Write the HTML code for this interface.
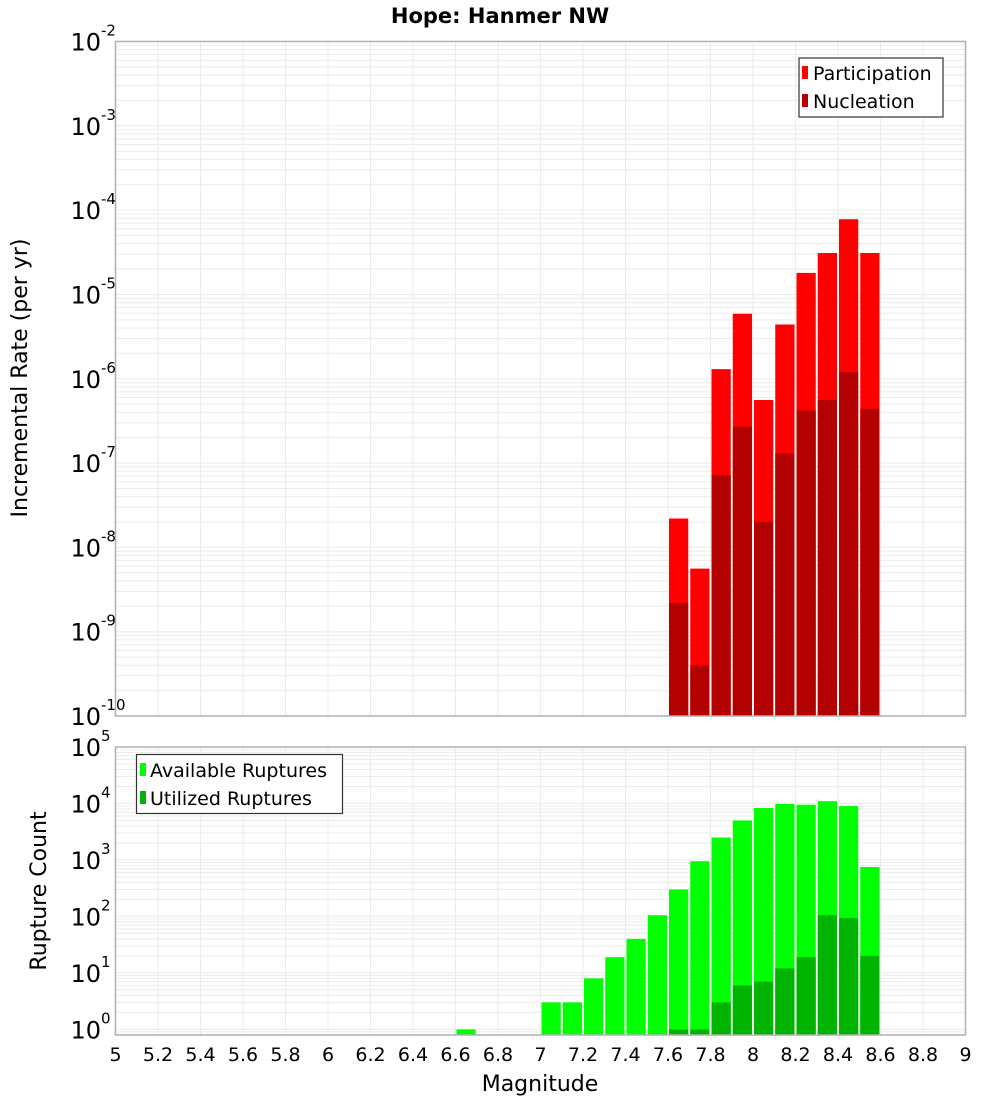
<!DOCTYPE html>
<html><head><meta charset="utf-8"><style>
body{margin:0;background:#fff;}
svg{display:block;font-family:"DejaVu Sans","Liberation Sans",sans-serif;}
</style></head><body>
<svg id="chart" width="1000" height="1100" viewBox="0 0 1000 1100"></svg>
<script>
const topBins = [7.6,7.7,7.8,7.9,8.0,8.1,8.2,8.3,8.4,8.5];
const participation = [2.2e-8,5.6e-9,1.3e-6,5.9e-6,5.6e-7,4.4e-6,1.8e-5,3.1e-5,7.8e-5,3.1e-5];
const nucleation = [2.2e-9,4e-10,7.2e-8,2.7e-7,2.0e-8,1.3e-7,4.2e-7,5.6e-7,1.2e-6,4.4e-7];
const botBins = [6.6,7.0,7.1,7.2,7.3,7.4,7.5,7.6,7.7,7.8,7.9,8.0,8.1,8.2,8.3,8.4,8.5];
const available = [1,3,3,8,19,40,105,300,950,2500,5000,8300,9800,9500,11000,9000,750];
const utilBins = [7.6,7.7,7.8,7.9,8.0,8.1,8.2,8.3,8.4,8.5];
const utilized = [1,1,3,6,7,12,19,105,93,20];
const xTicks = [5,5.2,5.4,5.6,5.8,6,6.2,6.4,6.6,6.8,7,7.2,7.4,7.6,7.8,8,8.2,8.4,8.6,8.8,9];
const topExps = [-2,-3,-4,-5,-6,-7,-8,-9,-10];
const botExps = [0,1,2,3,4,5];

const svg = document.getElementById('chart');
const NS = 'http://www.w3.org/2000/svg';
function mk(tag, attrs, parent){const e=document.createElementNS(NS,tag);for(const k in attrs)e.setAttribute(k,attrs[k]);(parent||svg).appendChild(e);return e;}
const L=115.5,R=965.5;
const x = m => L + (m-5)/4*(R-L);
const TT=41.5,TB=716;
const yTop = v => TT + (-2 - Math.log10(v))*(TB-TT)/8;
const BT=747,BB=1035;
const yBot = v => BT + (5 - Math.log10(v))*(BB-BT)/5.1;

function grid(yf, lo, hi, top, bot, name){
  const g=mk('g',{});
  
  
  for(let e=lo;e<hi;e++){for(let k=1;k<10;k++){const yy=yf(k*Math.pow(10,e));if(yy<top-0.5||yy>bot)continue;
    mk('line',{x1:L,x2:R,y1:yy,y2:yy,stroke:'#ebebeb','stroke-width':1},g);}}
  xTicks.forEach(t=>mk('line',{x1:x(t),x2:x(t),y1:top,y2:bot,stroke:'#ebebeb','stroke-width':1},g));
}
grid(yTop,-10,-2,TT,TB,'top-grid');
mk('line',{x1:L,x2:R,y1:TT,y2:TT,stroke:'#ebebeb'});
grid(yBot,-1,5,BT,BB,'bottom-grid');
mk('line',{x1:L,x2:R,y1:BT,y2:BT,stroke:'#ebebeb'});

function bar(m,v,yf,base,color,name){
  const x0=x(m)+1,x1=x(m+0.1)-1,y0=yf(v);
  const r=mk('rect',{x:x0,y:y0,width:x1-x0,height:base-y0,fill:color});
  
  
}
topBins.forEach((m,i)=>bar(m,participation[i],yTop,TB,'#ff0000','participation-bar'));
topBins.forEach((m,i)=>bar(m,nucleation[i],yTop,TB,'#b30000','nucleation-bar'));
botBins.forEach((m,i)=>bar(m,available[i],yBot,BB,'#00ff00','available-bar'));
utilBins.forEach((m,i)=>bar(m,utilized[i],yBot,BB,'#00b300','utilized-bar'));

mk('rect',{x:L,y:TT,width:R-L,height:TB-TT,fill:'none',stroke:'#b0b0b0','stroke-width':1.5});
mk('rect',{x:L,y:BT,width:R-L,height:BB-BT,fill:'none',stroke:'#b0b0b0','stroke-width':1.5});

function ylab(e,yy,name){
  const t=mk('text',{x:101,y:yy+9,'text-anchor':'end','font-size':24,fill:'#000'});
  t.textContent='10';
  
  
  const s=mk('text',{x:101,y:yy-6,'font-size':15,fill:'#000'});
  s.textContent=String(e);
  
  
}
topExps.forEach(e=>ylab(e,yTop(Math.pow(10,e)),'top-y-tick-label'));
botExps.forEach(e=>ylab(e,yBot(Math.pow(10,e)),'bottom-y-tick-label'));
xTicks.forEach(t=>{const tx=mk('text',{x:x(t),y:1061,'text-anchor':'middle','font-size':19,fill:'#000'});
  tx.textContent=String(t);
  
  });
</script>
<svg width="1000" height="1100" style="position:absolute;left:0;top:0">
<text x="500" y="23" text-anchor="middle" font-size="21" font-weight="bold" font-family="DejaVu Sans, Liberation Sans, sans-serif">Hope: Hanmer NW</text>
<text transform="translate(27,378) rotate(-90)" text-anchor="middle" font-size="22" font-family="DejaVu Sans, Liberation Sans, sans-serif">Incremental Rate (per yr)</text>
<text transform="translate(46,891) rotate(-90)" text-anchor="middle" font-size="22" font-family="DejaVu Sans, Liberation Sans, sans-serif">Rupture Count</text>
<text x="540" y="1091" text-anchor="middle" font-size="22" font-family="DejaVu Sans, Liberation Sans, sans-serif">Magnitude</text>
<g font-family="DejaVu Sans, Liberation Sans, sans-serif" font-size="19">
<rect x="799" y="58" width="144" height="59" fill="#fff" stroke="#333" stroke-width="1.2"/>
<rect x="802" y="66" width="6" height="13" fill="#ff0000"/>
<text x="813" y="80">Participation</text>
<rect x="802" y="94" width="6" height="13" fill="#b30000"/>
<text x="813" y="108">Nucleation</text>
</g>
<g font-family="DejaVu Sans, Liberation Sans, sans-serif" font-size="19">
<rect x="136.5" y="754.5" width="206" height="59" fill="#fff" stroke="#333" stroke-width="1.2"/>
<rect x="140" y="763" width="6" height="13" fill="#00ff00"/>
<text x="150" y="777">Available Ruptures</text>
<rect x="140" y="791" width="6" height="13" fill="#00b300"/>
<text x="150" y="805">Utilized Ruptures</text>
</g>
</svg>
</body></html>
